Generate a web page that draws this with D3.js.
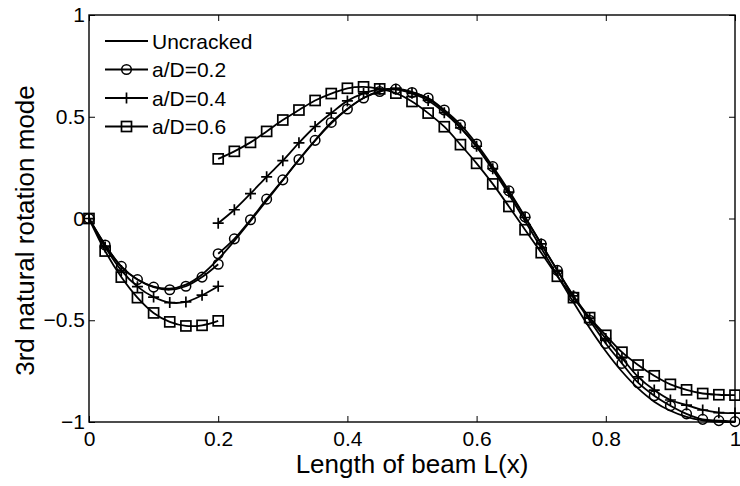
<!DOCTYPE html>
<html>
<head>
<meta charset="utf-8">
<script src="https://cdn.jsdelivr.net/npm/d3@7"></script>
<style>
  html, body { margin: 0; padding: 0; background: #fff; }
  svg { display: block; font-family: Arial, "Liberation Sans", sans-serif; }
</style>
</head>
<body>
<svg id="chart" width="740" height="486"></svg>
<script>
// Positions along the beam (normalised length); crack sits at x = 0.2
const xLeft = [0, 0.025, 0.05, 0.075, 0.1, 0.125, 0.15, 0.175, 0.2];
const xRight = [0.2, 0.225, 0.25, 0.275, 0.3, 0.325, 0.35, 0.375, 0.4, 0.425, 0.45,
  0.475, 0.5, 0.525, 0.55, 0.575, 0.6, 0.625, 0.65, 0.675, 0.7, 0.725, 0.75,
  0.775, 0.8, 0.825, 0.85, 0.875, 0.9, 0.925, 0.95, 0.975, 1];
const xAll = xLeft.concat(xRight.slice(1));

// Uncracked beam, 3rd rotation mode
const uncracked = [0, -0.13, -0.238, -0.3, -0.335, -0.345, -0.325, -0.275, -0.2,
  -0.11, -0.012, 0.088, 0.188, 0.288, 0.383, 0.468, 0.538, 0.592, 0.626, 0.637,
  0.622, 0.588, 0.528, 0.448, 0.352, 0.24, 0.118, -0.012, -0.145, -0.28, -0.412,
  -0.538, -0.652, -0.752, -0.835, -0.9, -0.945, -0.975, -0.992, -0.999, -1.0];

// Cracked beam: segment left of the crack and segment right of it
const crack02Left = [0, -0.13, -0.235, -0.3, -0.337, -0.35, -0.333, -0.288, -0.225];
const crack02Right = [-0.173, -0.1, -0.006, 0.095, 0.19, 0.29, 0.384, 0.472, 0.538,
  0.592, 0.624, 0.636, 0.619, 0.592, 0.533, 0.461, 0.366, 0.255, 0.136, 0.008,
  -0.125, -0.255, -0.385, -0.5, -0.614, -0.712, -0.807, -0.871, -0.92, -0.96,
  -0.987, -0.993, -0.998];

const crack04Left = [0, -0.14, -0.255, -0.335, -0.386, -0.413, -0.41, -0.377, -0.333];
const crack04Right = [-0.023, 0.043, 0.122, 0.205, 0.284, 0.372, 0.452, 0.518,
  0.578, 0.615, 0.635, 0.635, 0.615, 0.58, 0.52, 0.445, 0.355, 0.245, 0.13, 0.005,
  -0.125, -0.255, -0.38, -0.49, -0.59, -0.685, -0.778, -0.843, -0.892, -0.917,
  -0.941, -0.954, -0.956];

const crack06Left = [0, -0.16, -0.288, -0.389, -0.464, -0.508, -0.528, -0.525, -0.503];
const crack06Right = [0.293, 0.33, 0.374, 0.428, 0.484, 0.533, 0.58, 0.614, 0.64,
  0.647, 0.637, 0.616, 0.575, 0.518, 0.451, 0.363, 0.271, 0.17, 0.059, -0.055,
  -0.168, -0.284, -0.389, -0.487, -0.574, -0.657, -0.72, -0.773, -0.815, -0.842,
  -0.86, -0.866, -0.868];

const xTicks = [0, 0.2, 0.4, 0.6, 0.8, 1];
const yTicks = [-1, -0.5, 0, 0.5, 1];
const seriesNames = ["Uncracked", "a/D=0.2", "a/D=0.4", "a/D=0.6"];

const W = 740, H = 486;
const margin = { top: 15, right: 5, bottom: 64, left: 89 };
const svg = d3.select("#chart");

const x = d3.scaleLinear().domain([0, 1]).range([margin.left, W - margin.right]);
const y = d3.scaleLinear().domain([-1, 1]).range([H - margin.bottom, margin.top]);

const tickLen = 6;
const fontTick = 21;

// Axes (ticks point inward, mirrored on top and right)
const gx = svg.append("g").attr("transform", `translate(0,${y(-1)})`)
  .call(d3.axisBottom(x).tickValues(xTicks).tickSize(-tickLen).tickPadding(9)
    .tickFormat(d => d3.format("~g")(d)));
const gxTop = svg.append("g").attr("transform", `translate(0,${y(1)})`)
  .call(d3.axisTop(x).tickValues(xTicks).tickSize(-tickLen).tickFormat(""));
const gy = svg.append("g").attr("transform", `translate(${x(0)},0)`)
  .call(d3.axisLeft(y).tickValues(yTicks).tickSize(-tickLen).tickPadding(4)
    .tickFormat(d => d3.format("~g")(d)));
const gyRight = svg.append("g").attr("transform", `translate(${x(1)},0)`)
  .call(d3.axisRight(y).tickValues(yTicks).tickSize(-tickLen).tickFormat(""));

[gx, gxTop, gy, gyRight].forEach(g => {
  g.select(".domain").remove();
  g.selectAll(".tick line").attr("stroke", "#000").attr("stroke-width", 1);
  g.selectAll(".tick text").attr("fill", "#000").attr("font-size", fontTick)
    .attr("font-family", "Arial, 'Liberation Sans', sans-serif");
});

// Plot frame
svg.append("rect")
  .attr("x", x(0)).attr("y", y(1))
  .attr("width", x(1) - x(0)).attr("height", y(-1) - y(1))
  .attr("fill", "none").attr("stroke", "#000").attr("stroke-width", 1.4);

// Axis titles
svg.append("text")
  .attr("x", (x(0) + x(1)) / 2).attr("y", 473)
  .attr("text-anchor", "middle").attr("font-size", 26).attr("fill", "#000")
  .text("Length of beam L(x)");
svg.append("text")
  .attr("transform", `translate(34,${(y(1) + y(-1)) / 2 + 12}) rotate(-90)`)
  .attr("text-anchor", "middle").attr("font-size", 26).attr("fill", "#000")
  .text("3rd natural rotation mode");

const line = d3.line().x(d => x(d[0])).y(d => y(d[1])).curve(d3.curveCatmullRom.alpha(0.5));
const zip = (xs, ys) => xs.map((v, i) => [v, ys[i]]);

const plot = svg.append("g");

function drawMarker(g, type, cx, cy) {
  if (type === "circle") {
    g.append("circle").attr("cx", cx).attr("cy", cy).attr("r", 4.8)
      .attr("fill", "none").attr("stroke", "#000").attr("stroke-width", 1.5);
  } else if (type === "plus") {
    g.append("path").attr("d", `M${cx - 5.5},${cy}H${cx + 5.5}M${cx},${cy - 5.5}V${cy + 5.5}`)
      .attr("fill", "none").attr("stroke", "#000").attr("stroke-width", 1.7);
  } else if (type === "square") {
    g.append("rect").attr("x", cx - 5).attr("y", cy - 5).attr("width", 10).attr("height", 10)
      .attr("fill", "none").attr("stroke", "#000").attr("stroke-width", 1.7);
  }
}

function drawSeries(segments, marker) {
  segments.forEach(pts => {
    plot.append("path").datum(pts).attr("d", line)
      .attr("fill", "none").attr("stroke", "#000").attr("stroke-width", 1.8);
    if (marker) pts.forEach(p => drawMarker(plot, marker, x(p[0]), y(p[1])));
  });
}

drawSeries([zip(xAll, uncracked)], null);
drawSeries([zip(xLeft, crack02Left), zip(xRight, crack02Right)], "circle");
drawSeries([zip(xLeft, crack04Left), zip(xRight, crack04Right)], "plus");
drawSeries([zip(xLeft, crack06Left), zip(xRight, crack06Right)], "square");

// Legend
const markers = [null, "circle", "plus", "square"];
const legend = svg.append("g");
seriesNames.forEach((name, i) => {
  const ly = 41 + i * 28.5;
  legend.append("line").attr("x1", 105).attr("x2", 148).attr("y1", ly).attr("y2", ly)
    .attr("stroke", "#000").attr("stroke-width", 1.8);
  if (markers[i]) drawMarker(legend, markers[i], 126.5, ly);
  legend.append("text").attr("x", 152).attr("y", ly + 7.5)
    .attr("font-size", 21).attr("fill", "#000").text(name);
});
</script>
</body>
</html>
